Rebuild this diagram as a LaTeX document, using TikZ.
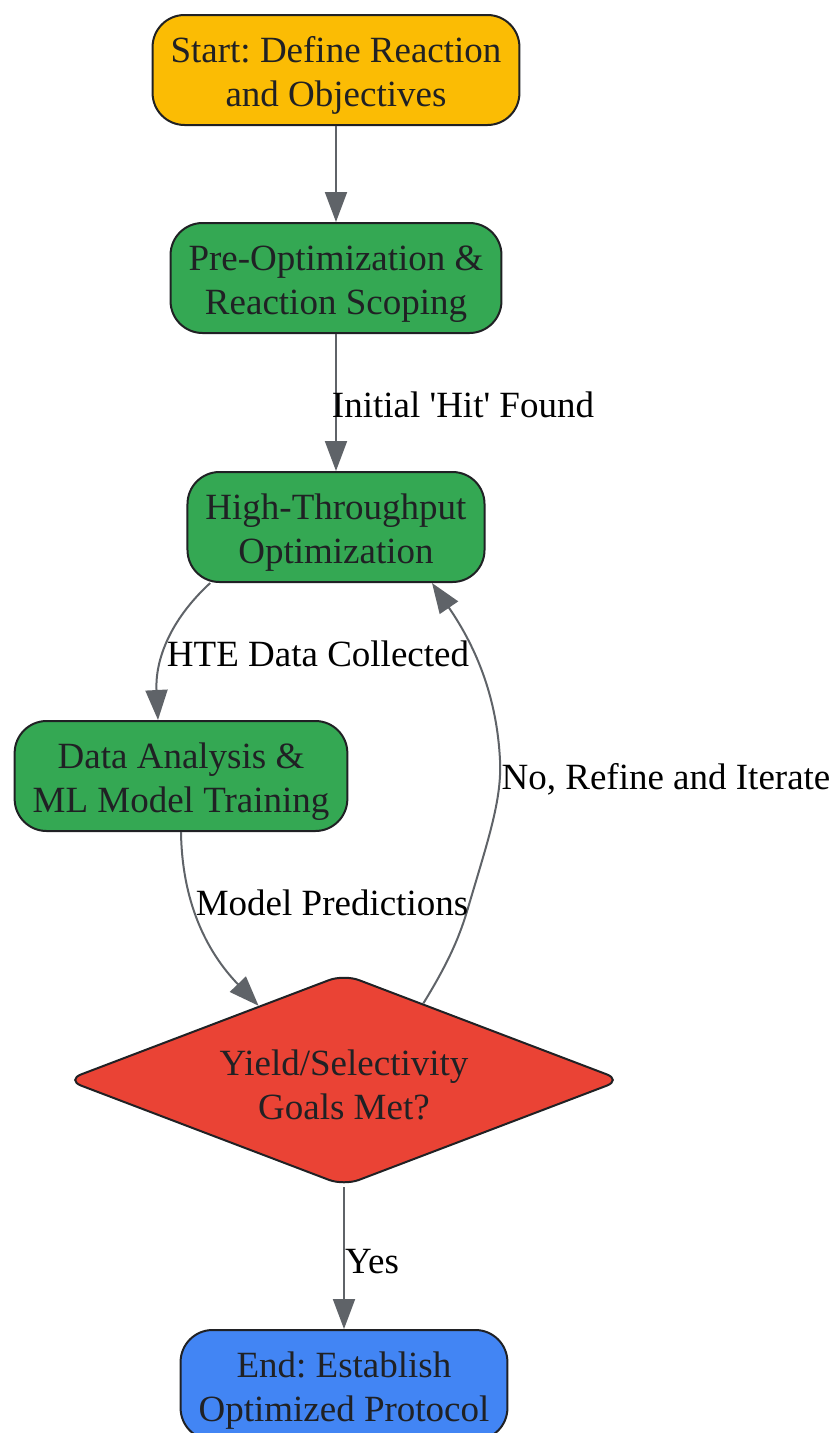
\documentclass[tikz,border=0pt]{standalone}
\usepackage{fontspec}
\setmainfont{Liberation Serif}
\usetikzlibrary{arrows.meta,shapes.geometric}
\frenchspacing

\definecolor{startyellow}{HTML}{FBBC04}
\definecolor{stepgreen}{HTML}{34A853}
\definecolor{goalred}{HTML}{EA4335}
\definecolor{endblue}{HTML}{4285F4}
\definecolor{edgegray}{HTML}{5F6368}
\definecolor{inkgray}{HTML}{202124}
\newcommand{\topgap}{\rule{0pt}{36pt}}

\begin{document}
\begin{tikzpicture}[x=1pt,y=-1pt,
  every node/.style={font=\fontsize{37}{44}\selectfont, align=center},
  flowbox/.style={draw=inkgray, line width=2pt, rounded corners=32pt, text=inkgray, inner xsep=18pt, minimum height=110pt},
  choice/.style={diamond, aspect=2.6, draw=inkgray, line width=2pt, rounded corners=16pt, text=inkgray, fill=goalred, minimum width=556pt, minimum height=212pt, inner sep=0pt},
  edge/.style={draw=edgegray, line width=2pt, -{Triangle[length=30pt,width=22pt]}},
  lbl/.style={text=black, inner sep=0pt}]
\useasboundingbox (0,0) rectangle (835,1433);
\node[flowbox, fill=startyellow] (start) at (336,70) {\topgap Start: Define Reaction\\and Objectives};
\node[flowbox, fill=stepgreen] (scope) at (336,278) {\topgap Pre-Optimization \&\\Reaction Scoping};
\node[flowbox, fill=stepgreen] (hte) at (336,527) {\topgap High-Throughput\\Optimization};
\node[flowbox, fill=stepgreen] (train) at (181,776) {\topgap Data Analysis \&\\ML Model Training};
\node[choice] (goals) at (344,1080) {\topgap Yield/Selectivity\\Goals Met?};
\node[flowbox, fill=endblue] (finish) at (344,1385) {\topgap End: Establish\\Optimized Protocol};

% connectors
\draw[edge] (start) -- (scope);
\draw[edge] (scope) -- (hte);
\draw[edge] (hte.204) .. controls (170,620) and (155,660) .. ([xshift=-23pt]train.north);
\draw[edge] (train.south) .. controls (182,900) and (205,950) .. (goals.139);
\draw[edge] (goals.44) .. controls (450,960) and (460,935) .. (468,908)
  .. controls (488,840) and (502,800) .. (500,760)
  .. controls (497,700) and (478,650) .. ([xshift=96pt]hte.south);
\draw[edge] (goals) -- (finish);

% edge labels
\node[lbl] (hit) at (463,405) {Initial \textquotesingle Hit\textquotesingle{} Found};
\node[lbl] (data) at (318,654) {HTE Data Collected};
\node[lbl] (pred) at (332,903) {Model Predictions};
\node[lbl] (iter) at (666,779) {No, Refine and Iterate};
\node[lbl] (yes) at (372,1262) {Yes};
\end{tikzpicture}
\end{document}
